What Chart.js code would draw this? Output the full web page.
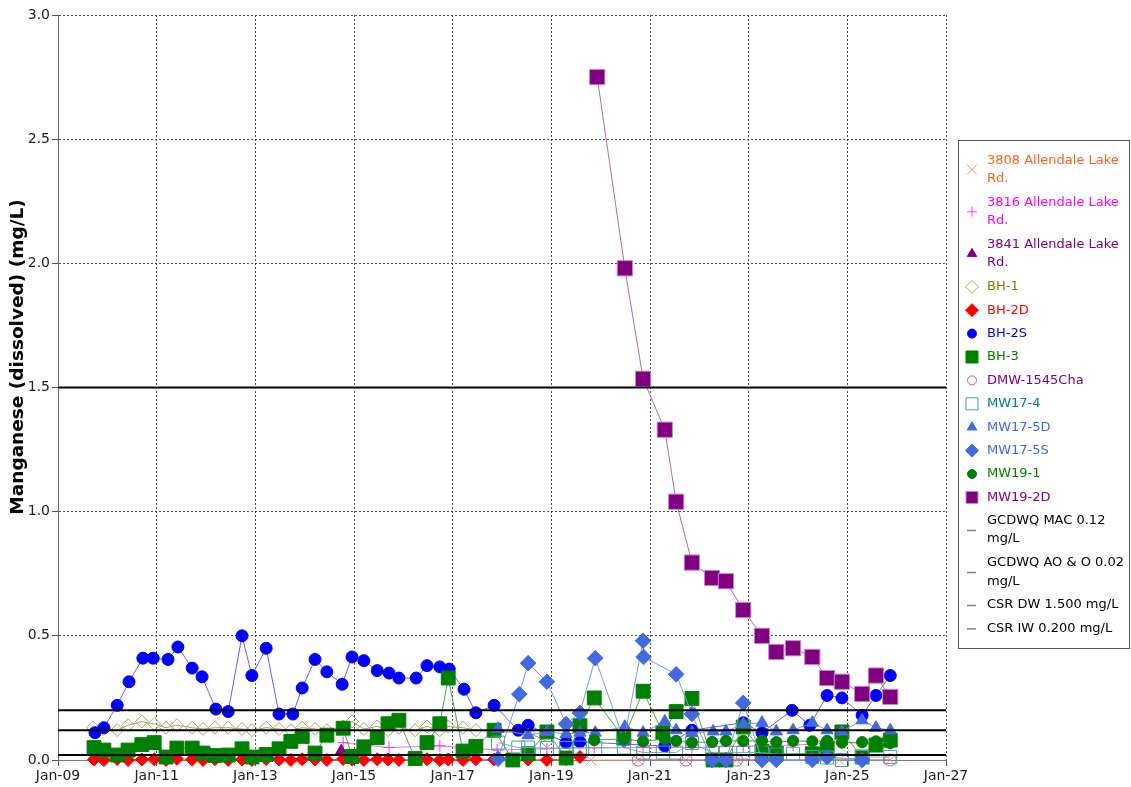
<!DOCTYPE html>
<html>
<head>
<meta charset="utf-8">
<script src="https://cdn.jsdelivr.net/npm/chart.js@4/dist/chart.umd.min.js"></script>
<style>
  html, body { margin: 0; padding: 0; background: #ffffff; }
  #wrap { width: 1131px; height: 787px; position: relative; }
  canvas { display: block; }
</style>
</head>
<body>
<div id="wrap"><canvas id="chart" width="1131" height="787"></canvas></div>
<script>
// Sample dates are decimal years; values are dissolved manganese in mg/L.
const yTitle = 'Manganese (dissolved) (mg/L)';
const xTickYears = [2009, 2011, 2013, 2015, 2017, 2019, 2021, 2023, 2025, 2027];
const yTickValues = [0, 0.5, 1.0, 1.5, 2.0, 2.5, 3.0];

const a3808Dates = [2019.80, 2020.76, 2021.73, 2022.76, 2024.84, 2025.87];
const a3808Values = [0, 0, 0, 0, 0, 0];

const a3816Dates = [2014.78, 2015.71, 2016.74, 2017.90, 2018.91, 2019.87, 2020.86, 2021.85, 2022.89, 2023.90, 2024.89, 2025.87];
const a3816Values = [0.07, 0.05, 0.057, 0.04, 0.045, 0.05, 0.05, 0.05, 0.055, 0.06, 0.07, 0.065];

const a3841Dates = [2014.74];
const a3841Values = [0.035];

const bh1Dates = [2009.71, 2009.93, 2010.20, 2010.42, 2010.70, 2010.95, 2011.19, 2011.41, 2011.72, 2011.94,
  2012.18, 2012.45, 2012.73, 2012.93, 2013.22, 2013.48, 2013.72, 2013.95, 2014.21, 2014.45, 2014.78, 2014.96,
  2015.20, 2015.47, 2015.69, 2015.91, 2016.24, 2016.48, 2016.74, 2016.91, 2017.21, 2017.47, 2017.84, 2018.53, 2018.91];
const bh1Values = [0.13, 0.125, 0.12, 0.14, 0.155, 0.145, 0.13, 0.14, 0.13, 0.125,
  0.13, 0.13, 0.125, 0.12, 0.13, 0.125, 0.12, 0.13, 0.125, 0.12, 0.135, 0.155,
  0.125, 0.135, 0.12, 0.13, 0.12, 0.135, 0.12, 0.135, 0.13, 0.12, 0.115, 0.11, 0.075];

const bh2dDates = [2009.73, 2009.93, 2010.20, 2010.42, 2010.70, 2010.95, 2011.19, 2011.41, 2011.72, 2011.94,
  2012.18, 2012.45, 2012.73, 2012.93, 2013.22, 2013.48, 2013.72, 2013.95, 2014.21, 2014.45, 2014.78, 2014.96,
  2015.20, 2015.47, 2015.69, 2015.91, 2016.24, 2016.48, 2016.74, 2016.91, 2017.21, 2017.47, 2017.84, 2018.22,
  2018.53, 2018.91, 2019.30, 2019.58];
const bh2dValues = [0.002, 0.0, 0.004, 0.0, 0.002, 0.003, 0.0, 0.005, 0.002, 0.0,
  0.003, 0.0, 0.002, 0.0, 0.004, 0.002, 0.0, 0.003, 0.002, 0.0, 0.004, 0.002,
  0.0, 0.003, 0.002, 0.0, 0.002, 0.003, 0.0, 0.002, 0.0, 0.003, 0.002, 0.0,
  0.002, 0.0, 0.004, 0.012];

const bh2sDates = [2009.75, 2009.93, 2010.20, 2010.44, 2010.72, 2010.93, 2011.23, 2011.43, 2011.72, 2011.92,
  2012.20, 2012.45, 2012.73, 2012.93, 2013.22, 2013.48, 2013.76, 2013.95, 2014.21, 2014.45, 2014.76, 2014.96,
  2015.20, 2015.47, 2015.71, 2015.91, 2016.26, 2016.48, 2016.74, 2016.93, 2017.23, 2017.47, 2017.84, 2018.33,
  2018.53, 2019.30, 2019.58, 2021.30, 2021.85, 2022.89, 2023.27, 2023.88, 2024.24, 2024.59, 2024.89, 2025.30,
  2025.58, 2025.87];
const bh2sValues = [0.11, 0.13, 0.22, 0.315, 0.41, 0.41, 0.405, 0.455, 0.37, 0.335,
  0.205, 0.195, 0.50, 0.34, 0.45, 0.185, 0.185, 0.29, 0.405, 0.355, 0.305, 0.415,
  0.40, 0.36, 0.35, 0.33, 0.33, 0.38, 0.375, 0.366, 0.285, 0.19, 0.22, 0.12,
  0.14, 0.07, 0.073, 0.056, 0.12, 0.15, 0.11, 0.20, 0.14, 0.26, 0.25, 0.18,
  0.26, 0.34];

const bh3Dates = [2009.73, 2009.93, 2010.20, 2010.42, 2010.70, 2010.95, 2011.19, 2011.41, 2011.72, 2011.94,
  2012.18, 2012.45, 2012.73, 2012.93, 2013.22, 2013.48, 2013.72, 2013.95, 2014.21, 2014.45, 2014.78, 2014.96,
  2015.20, 2015.47, 2015.69, 2015.91, 2016.24, 2016.48, 2016.74, 2016.91, 2017.21, 2017.47, 2017.84, 2018.22,
  2018.53, 2018.91, 2019.30, 2019.58, 2019.87, 2020.47, 2020.86, 2021.26, 2021.53, 2021.85, 2022.28, 2022.54,
  2022.89, 2023.27, 2023.56, 2024.29, 2024.59, 2024.89, 2025.30, 2025.58, 2025.87];
const bh3Values = [0.05, 0.04, 0.02, 0.04, 0.062, 0.07, 0.012, 0.048, 0.048, 0.028,
  0.018, 0.02, 0.045, 0.012, 0.022, 0.045, 0.075, 0.095, 0.028, 0.10, 0.128, 0.014,
  0.053, 0.09, 0.146, 0.16, 0.006, 0.07, 0.146, 0.33, 0.036, 0.055, 0.12, 0.0,
  0.025, 0.113, 0.008, 0.138, 0.25, 0.088, 0.277, 0.11, 0.195, 0.248, 0.0, 0.0,
  0.133, 0.035, 0.027, 0.025, 0.048, 0.113, 0.012, 0.06, 0.08];

const dmwDates = [2020.76, 2021.73, 2022.76, 2025.87];
const dmwValues = [0, 0, 0, 0];

const mw174Dates = [2017.92, 2018.33, 2018.53, 2018.91, 2019.30, 2019.58, 2019.89, 2020.47, 2020.86, 2021.26,
  2021.53, 2021.85, 2022.26, 2022.54, 2022.89, 2023.27, 2023.56, 2023.90, 2024.29, 2024.59, 2024.89, 2025.30, 2025.87];
const mw174Values = [0.07, 0.05, 0.05, 0.048, 0.048, 0.05, 0.048, 0.05, 0.03, 0.03,
  0.03, 0.068, 0.03, 0.03, 0.03, 0.03, 0.022, 0.025, 0.012, 0.01, 0.0, 0.012, 0.012];

const mw175dDates = [2017.92, 2018.53, 2018.91, 2019.30, 2019.58, 2019.89, 2020.49, 2020.86, 2021.30, 2021.53,
  2021.85, 2022.28, 2022.54, 2022.89, 2023.27, 2023.56, 2023.90, 2024.29, 2024.59, 2024.89, 2025.30, 2025.58, 2025.87];
const mw175dValues = [0.125, 0.10, 0.113, 0.105, 0.11, 0.11, 0.134, 0.11, 0.155, 0.12,
  0.11, 0.115, 0.115, 0.145, 0.15, 0.115, 0.12, 0.15, 0.12, 0.115, 0.16, 0.13, 0.12];

const mw175sDates = [2017.92, 2018.35, 2018.53, 2018.91, 2019.30, 2019.58, 2019.89, 2020.47, 2020.86, 2020.87,
  2021.53, 2021.85, 2022.26, 2022.54, 2022.89, 2023.27, 2023.56, 2024.29, 2024.59, 2025.30];
const mw175sValues = [0.005, 0.265, 0.39, 0.315, 0.145, 0.19, 0.41, 0.08, 0.48, 0.415,
  0.345, 0.185, 0.0, 0.0, 0.23, 0.0, 0.0, 0.0, 0.012, 0.0];

const mw191Dates = [2019.87, 2020.47, 2020.86, 2021.30, 2021.53, 2021.85, 2022.26, 2022.54, 2022.89, 2023.27,
  2023.56, 2023.90, 2024.29, 2024.59, 2024.89, 2025.30, 2025.58, 2025.87];
const mw191Values = [0.08, 0.085, 0.075, 0.085, 0.077, 0.07, 0.073, 0.077, 0.077, 0.077,
  0.072, 0.077, 0.075, 0.077, 0.07, 0.072, 0.075, 0.068];

const mw192dDates = [2019.93, 2020.49, 2020.86, 2021.30, 2021.53, 2021.85, 2022.26, 2022.54, 2022.89, 2023.27,
  2023.56, 2023.90, 2024.29, 2024.59, 2024.89, 2025.30, 2025.58, 2025.87];
const mw192dValues = [2.75, 1.98, 1.535, 1.33, 1.04, 0.795, 0.733, 0.72, 0.604, 0.50,
  0.435, 0.45, 0.415, 0.33, 0.315, 0.266, 0.34, 0.254];

// Guideline / standard levels (mg/L)
const guidelineNames = ['GCDWQ MAC 0.12 mg/L', 'GCDWQ AO & O 0.02 mg/L', 'CSR DW 1.500 mg/L', 'CSR IW 0.200 mg/L'];
const guidelineValues = [0.12, 0.02, 1.5, 0.2];

const X_MIN = 2009, X_MAX = 2027;

function pts(dates, values) {
  return dates.map((d, i) => ({ x: d, y: values[i] }));
}

// Series definitions in legend order
const seriesDefs = [
  { label: '3808 Allendale Lake Rd.', dates: a3808Dates, values: a3808Values, style: 'crossRot', r: 8, fill: 'rgba(0,0,0,0)', stroke: '#FF8A65', line: '#F4A080', text: '#FF5F1F', bw: 1, legendR: 7 },
  { label: '3816 Allendale Lake Rd.', dates: a3816Dates, values: a3816Values, style: 'cross', r: 6, fill: 'rgba(0,0,0,0)', stroke: '#FF33FF', line: '#FF66FF', text: '#FF00FF', bw: 1, legendR: 5 },
  { label: '3841 Allendale Lake Rd.', dates: a3841Dates, values: a3841Values, style: 'triangle', r: 7, fill: '#800080', stroke: '#800080', line: '#A050A0', text: '#800080', bw: 1, legendR: 5.5 },
  { label: 'BH-1', dates: bh1Dates, values: bh1Values, style: 'rectRot', r: 6.5, fill: 'rgba(0,0,0,0)', stroke: '#A8A262', line: '#A8A262', text: '#808000', bw: 1, legendR: 6.5 },
  { label: 'BH-2D', dates: bh2dDates, values: bh2dValues, style: 'rectRot', r: 6.5, fill: '#FF0000', stroke: '#FF0000', line: '#FF5050', text: '#FF0000', bw: 1, legendR: 6.5 },
  { label: 'BH-2S', dates: bh2sDates, values: bh2sValues, style: 'circle', r: 6, fill: '#0000FF', stroke: '#0000FF', line: '#6060FF', text: '#0000FF', bw: 1, legendR: 4.5 },
  { label: 'BH-3', dates: bh3Dates, values: bh3Values, style: 'rect', r: 9.8, fill: '#008000', stroke: '#008000', line: '#4CA64C', text: '#008000', bw: 1, legendR: 8.5 },
  { label: 'DMW-1545Cha', dates: dmwDates, values: dmwValues, style: 'circle', r: 6, fill: 'rgba(0,0,0,0)', stroke: '#B060B0', line: '#B060B0', text: '#800080', bw: 1, legendR: 4.5 },
  { label: 'MW17-4', dates: mw174Dates, values: mw174Values, style: 'rect', r: 9.2, fill: 'rgba(0,0,0,0)', stroke: '#4AA3A3', line: '#6FB7B7', text: '#008080', bw: 1, legendR: 8.5 },
  { label: 'MW17-5D', dates: mw175dDates, values: mw175dValues, style: 'triangle', r: 7, fill: '#4169E1', stroke: '#4169E1', line: '#7D97EA', text: '#4169E1', bw: 1, legendR: 5.5 },
  { label: 'MW17-5S', dates: mw175sDates, values: mw175sValues, style: 'rectRot', r: 7.8, fill: '#4169E1', stroke: '#4169E1', line: '#7D97EA', text: '#4169E1', bw: 1, legendR: 6.5 },
  { label: 'MW19-1', dates: mw191Dates, values: mw191Values, style: 'circle', r: 5.6, fill: '#008000', stroke: '#008000', line: '#4CA64C', text: '#008000', bw: 1, legendR: 4.5 },
  { label: 'MW19-2D', dates: mw192dDates, values: mw192dValues, style: 'rect', r: 10.8, fill: '#800080', stroke: '#C58AC5', line: '#B36AB3', text: '#800080', bw: 1, legendR: 8.5 }
];

const nSeries = seriesDefs.length;
const datasets = seriesDefs.map((s, i) => ({
  label: s.label,
  data: pts(s.dates, s.values),
  borderColor: s.line,
  borderWidth: 1,
  backgroundColor: s.fill,
  pointStyle: s.style,
  pointRadius: s.r,
  pointHoverRadius: s.r,
  pointBackgroundColor: s.fill,
  pointBorderColor: s.stroke,
  pointBorderWidth: s.bw,
  tension: 0,
  clip: false,
  order: nSeries - i + 1,
  legendText: s.text,
  legendIcon: { style: s.style, r: s.legendR, fill: s.fill, stroke: s.stroke }
}));

guidelineNames.forEach((name, i) => {
  datasets.push({
    label: name,
    data: [{ x: X_MIN, y: guidelineValues[i] }, { x: X_MAX, y: guidelineValues[i] }],
    borderColor: '#000000',
    borderWidth: 2,
    pointRadius: 0,
    pointHoverRadius: 0,
    tension: 0,
    order: 0,
    legendText: '#000000',
    legendIcon: { style: 'line' }
  });
});

function wrapText(ctx, text, maxWidth) {
  const words = text.split(' ');
  const lines = [];
  let cur = '';
  words.forEach(w => {
    const test = cur ? cur + ' ' + w : w;
    if (ctx.measureText(test).width > maxWidth && cur) {
      lines.push(cur);
      cur = w;
    } else {
      cur = test;
    }
  });
  if (cur) lines.push(cur);
  return lines;
}

function drawMarker(ctx, icon, x, y) {
  if (icon.style === 'line') {
    ctx.strokeStyle = '#808080';
    ctx.lineWidth = 1.5;
    ctx.beginPath();
    ctx.moveTo(x - 5, y + 0.5);
    ctx.lineTo(x + 4, y + 0.5);
    ctx.stroke();
    return;
  }
  ctx.fillStyle = icon.fill;
  ctx.strokeStyle = icon.stroke;
  ctx.lineWidth = 1;
  Chart.helpers.drawPoint(ctx, { pointStyle: icon.style, radius: icon.r, rotation: 0, borderWidth: 1 }, x, y);
}

// Side legend with coloured, wrapped labels, plus the rotated value-axis title
const sidePanel = {
  id: 'sidePanel',
  afterDraw(chart) {
    const ctx = chart.ctx;
    ctx.save();

    ctx.translate(18, 357);
    ctx.rotate(-Math.PI / 2);
    ctx.font = 'bold 18.5px "DejaVu Sans"';
    ctx.textAlign = 'center';
    ctx.textBaseline = 'middle';
    ctx.fillStyle = '#000000';
    ctx.fillText(yTitle, 0, 0);
    ctx.setTransform(1, 0, 0, 1, 0, 0);

    ctx.strokeStyle = '#555555';
    ctx.lineWidth = 1;
    ctx.strokeRect(958.5, 140.5, 171, 508);

    ctx.font = '13px "DejaVu Sans"';
    ctx.textAlign = 'left';
    ctx.textBaseline = 'middle';
    const lineStep = 18.3;
    let y = 160.5;
    chart.data.datasets.forEach(ds => {
      const lines = wrapText(ctx, ds.label, 140);
      const iconY = y + (lines.length - 1) * lineStep / 2;
      drawMarker(ctx, ds.legendIcon, 972, iconY);
      ctx.fillStyle = ds.legendText;
      lines.forEach((t, k) => ctx.fillText(t, 987, y + k * lineStep));
      y += 23.4 + (lines.length - 1) * (lineStep + 0.4);
    });
    ctx.restore();
  }
};

new Chart(document.getElementById('chart'), {
  type: 'line',
  data: { datasets },
  plugins: [sidePanel],
  options: {
    responsive: false,
    animation: false,
    devicePixelRatio: 1,
    events: [],
    layout: { padding: { top: 15, right: 185, bottom: 0, left: 0 } },
    plugins: { legend: { display: false }, tooltip: { enabled: false } },
    scales: {
      x: {
        type: 'linear',
        min: X_MIN,
        max: X_MAX,
        afterFit(scale) { scale.height = 27; },
        afterBuildTicks(scale) { scale.ticks = xTickYears.map(v => ({ value: v })); },
        ticks: {
          callback: v => 'Jan-' + String(v).slice(2),
          font: { family: 'DejaVu Sans', size: 14 },
          color: '#222222',
          padding: 2,
          maxRotation: 0,
          autoSkip: false
        },
        grid: { color: '#505050', lineWidth: 1, tickLength: 6 },
        border: { display: true, color: '#7a7a7a', width: 1, dash: [2, 2] }
      },
      y: {
        type: 'linear',
        min: 0,
        max: 3,
        afterFit(scale) { scale.width = 58; },
        afterBuildTicks(scale) { scale.ticks = yTickValues.map(v => ({ value: v })); },
        ticks: {
          callback: v => Number(v).toFixed(1),
          font: { family: 'DejaVu Sans', size: 14 },
          color: '#222222',
          padding: 2
        },
        grid: { color: '#505050', lineWidth: 1, tickLength: 6 },
        border: { display: true, color: '#666666', width: 1, dash: [2, 2] }
      }
    }
  }
});
</script>
</body>
</html>
